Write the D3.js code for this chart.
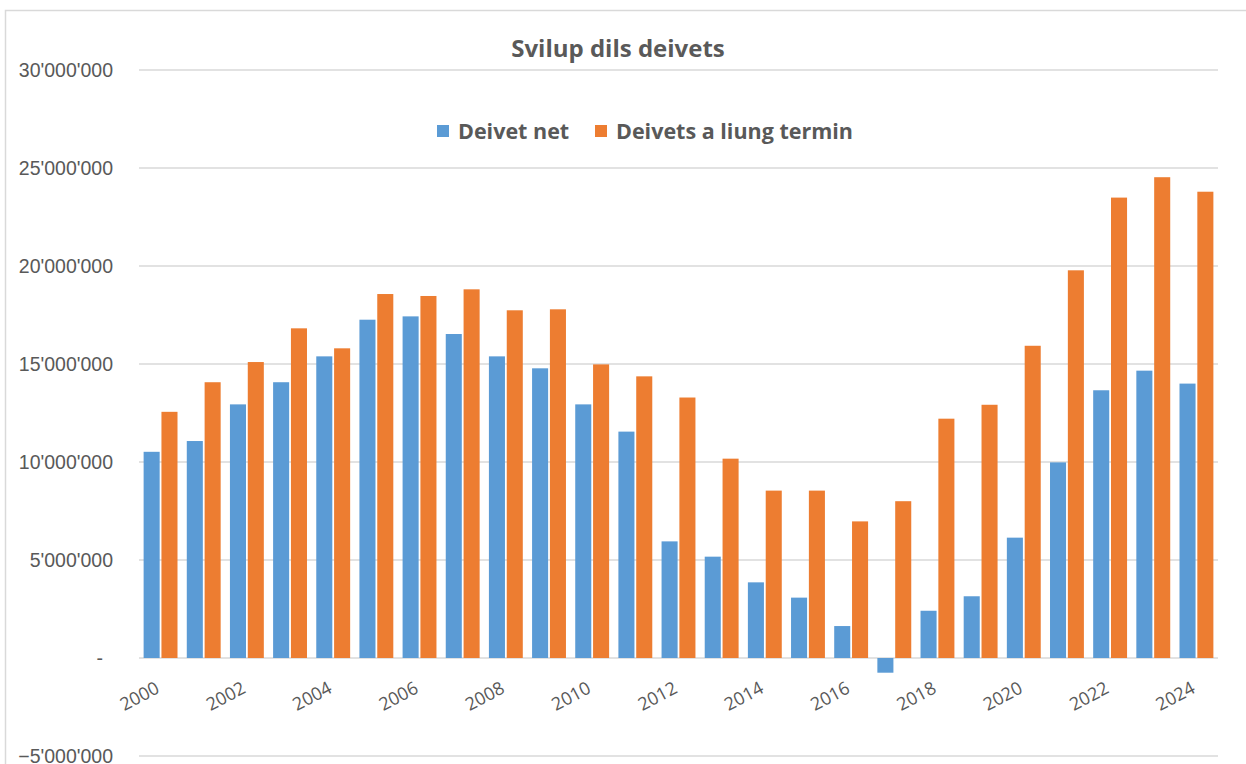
<!DOCTYPE html>
<html>
<head>
<meta charset="utf-8">
<script src="https://cdn.jsdelivr.net/npm/d3@7"></script>
<style>
  body { margin: 0; background: #fff; }
  svg { display: block; font-family: "Open Sans", sans-serif; }
  .grid line { stroke: #d9d9d9; stroke-width: 1.5; }
  .tick text { fill: #595959; }
</style>
</head>
<body>
<svg id="chart"></svg>
<script>
  //begin: data
  var years = d3.range(2000, 2025).map(String);
  var deivetNet = [10.52, 11.07, 12.94, 14.07, 15.39, 17.26, 17.43, 16.53, 15.39, 14.78,
                   12.94, 11.55, 5.95, 5.17, 3.86, 3.08, 1.63, -0.75, 2.41, 3.15,
                   6.14, 9.98, 13.66, 14.66, 14.0];
  var deivetsLiung = [12.56, 14.07, 15.10, 16.82, 15.80, 18.57, 18.47, 18.81, 17.74, 17.79,
                      14.98, 14.37, 13.29, 10.17, 8.54, 8.54, 6.97, 8.0, 12.21, 12.92,
                      15.93, 19.78, 23.49, 24.53, 23.79];
  var seriesNames = ["Deivet net", "Deivets a liung termin"];
  var seriesColors = ["#5b9bd5", "#ed7d31"];
  var yTicks = [-5e6, 0, 5e6, 10e6, 15e6, 20e6, 25e6, 30e6];
  //end: data

  //begin: layout conf.
  var svgWidth = 1246,
      svgHeight = 764,
      plotLeft = 139,
      plotRight = 1218,
      plotTop = 70,
      plotBottom = 756;
  //end: layout conf.

  var svg = d3.select("#chart")
    .attr("width", svgWidth)
    .attr("height", svgHeight);

  // chart area border (right and bottom fall outside the picture)
  svg.append("rect")
    .attr("x", 5.5).attr("y", 10.5)
    .attr("width", 1300).attr("height", 900)
    .attr("fill", "none")
    .attr("stroke", "#d9d9d9")
    .attr("stroke-width", 1.5);

  var data = years.map(function(y, i) {
    return {year: y, values: [deivetNet[i] * 1e6, deivetsLiung[i] * 1e6]};
  });

  var x0 = d3.scaleBand()
    .domain(years)
    .range([plotLeft, plotRight])
    .paddingInner(0.215)
    .paddingOuter(0.107);

  var x1 = d3.scaleBand()
    .domain([0, 1])
    .range([0, x0.bandwidth()])
    .paddingInner(0.1);

  var y = d3.scaleLinear()
    .domain([-5e6, 30e6])
    .range([plotBottom, plotTop]);

  var fmt = function(d) {
    if (d === 0) return "-";
    return d3.format(",")(d).replace(/,/g, "'");
  };

  // gridlines
  var grid = svg.append("g").attr("class", "grid");
  grid.selectAll("line")
    .data(yTicks)
    .enter().append("line")
      .attr("x1", plotLeft).attr("x2", plotRight)
      .attr("y1", function(d){ return y(d); })
      .attr("y2", function(d){ return y(d); });

  // y axis labels
  var yAxis = svg.append("g")
    .attr("transform", "translate(" + [plotLeft - 26, 0] + ")")
    .call(d3.axisLeft(y).tickValues(yTicks).tickFormat(fmt).tickSize(0).tickPadding(0));
  yAxis.select(".domain").remove();
  yAxis.selectAll("text")
    .style("font-size", "19.5px")
    .attr("dy", "0.35em")
    .attr("x", function(d){ return d === 0 ? -10 : 0; });

  // bars
  var groups = svg.append("g")
    .selectAll("g")
    .data(data)
    .enter().append("g")
      .attr("transform", function(d){ return "translate(" + [x0(d.year), 0] + ")"; });

  groups.selectAll("rect")
    .data(function(d){ return d.values; })
    .enter().append("rect")
      .attr("x", function(d, i){ return x1(i); })
      .attr("y", function(d){ return y(Math.max(0, d)); })
      .attr("width", x1.bandwidth())
      .attr("height", function(d){ return Math.abs(y(d) - y(0)); })
      .attr("fill", function(d, i){ return seriesColors[i]; });

  // x axis labels (every other year, rotated)
  var xLabels = svg.append("g");
  xLabels.selectAll("text")
    .data(years.filter(function(d, i){ return i % 2 === 0; }))
    .enter().append("text")
      .attr("text-anchor", "end")
      .attr("fill", "#595959")
      .style("font-size", "18px")
      .attr("transform", function(d){
        var cx = x0(d) + x0.bandwidth() / 2;
        return "translate(" + [cx, 692] + ") rotate(-28)";
      })
      .text(function(d){ return d; });

  // title
  svg.append("text")
    .attr("x", 618).attr("y", 57)
    .attr("text-anchor", "middle")
    .attr("fill", "#595959")
    .style("font-size", "24px")
    .style("font-weight", "bold")
    .text("Svilup dils deivets");

  // legend
  var legendX = [437, 595];
  var legend = svg.append("g")
    .selectAll("g")
    .data(seriesNames)
    .enter().append("g")
      .attr("transform", function(d, i){ return "translate(" + [legendX[i], 125] + ")"; });
  legend.append("rect")
    .attr("width", 12).attr("height", 12)
    .attr("fill", function(d, i){ return seriesColors[i]; });
  legend.append("text")
    .attr("x", 21).attr("y", 14)
    .attr("fill", "#595959")
    .style("font-size", "21.5px")
    .style("font-weight", "bold")
    .text(function(d){ return d; });
</script>
</body>
</html>
